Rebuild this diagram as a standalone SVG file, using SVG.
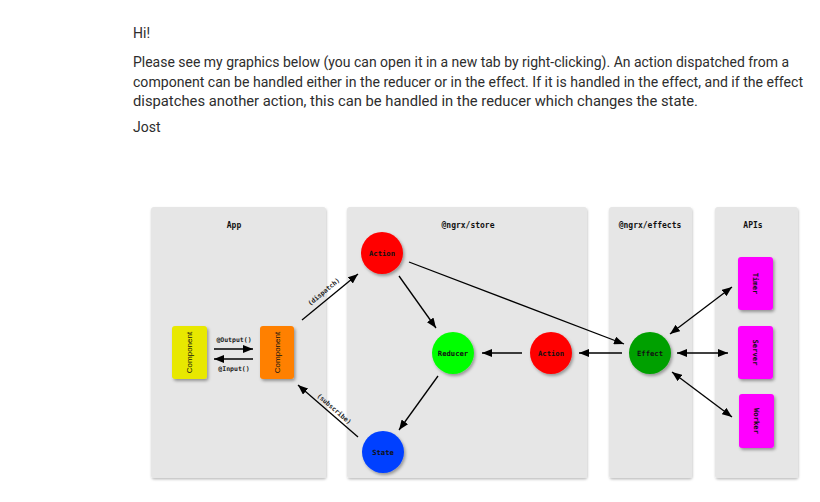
<svg xmlns="http://www.w3.org/2000/svg" width="820" height="502" viewBox="0 0 820 502">
<defs>
<filter id="sh" x="-30%" y="-30%" width="160%" height="160%">
<feDropShadow dx="1.5" dy="2" stdDeviation="1.5" flood-color="#000" flood-opacity="0.35"/>
</filter>
<filter id="psh" x="-10%" y="-10%" width="120%" height="120%">
<feDropShadow dx="0.5" dy="1.5" stdDeviation="1" flood-color="#000" flood-opacity="0.25"/>
</filter>
<marker id="ah" viewBox="0 0 10 8" refX="10" refY="4" markerWidth="10" markerHeight="8" markerUnits="userSpaceOnUse" orient="auto-start-reverse">
<path d="M0,0 L10,4 L0,8 z" fill="#000"/>
</marker>
</defs>
<style>
.para{font-family:Roboto,"Liberation Sans",sans-serif;font-size:14px;fill:#2d2d2d}
.panel{fill:#e6e6e6;filter:url(#psh)}
.title{font-family:"DejaVu Sans Mono","Liberation Mono",monospace;font-size:8px;font-weight:bold;fill:#111;text-anchor:middle}
.mono{font-family:"DejaVu Sans Mono","Liberation Mono",monospace;font-size:7.2px;font-weight:bold;fill:#111;text-anchor:middle;dominant-baseline:central}
.lab{font-family:"DejaVu Sans Mono","Liberation Mono",monospace;font-size:6.5px;font-weight:bold;fill:#222;text-anchor:middle;dominant-baseline:central}
.comp{font-family:"Liberation Sans",Arial,sans-serif;font-size:8px;fill:#111;text-anchor:middle;dominant-baseline:central}
.node{filter:url(#sh)}
.conn line{stroke:#000;stroke-width:1.3;fill:none}
</style>
<g id="intro">
<text class="para" x="133" y="38">Hi!</text>
<text class="para" x="133" y="67" textLength="656" lengthAdjust="spacingAndGlyphs">Please see my graphics below (you can open it in a new tab by right-clicking). An action dispatched from a</text>
<text class="para" x="133" y="87" textLength="670" lengthAdjust="spacingAndGlyphs">component can be handled either in the reducer or in the effect. If it is handled in the effect, and if the effect</text>
<text class="para" x="133" y="106" textLength="565" lengthAdjust="spacingAndGlyphs">dispatches another action, this can be handled in the reducer which changes the state.</text>
<text class="para" x="133" y="132">Jost</text>
</g>
<g id="panel-app"><rect class="panel" x="151" y="207" width="175" height="271" rx="3"/><text class="title" x="234" y="228">App</text></g>
<g id="panel-store"><rect class="panel" x="347" y="207" width="240" height="271" rx="3"/><text class="title" x="468" y="228">@ngrx/store</text></g>
<g id="panel-effects"><rect class="panel" x="609" y="207" width="83" height="271" rx="3"/><text class="title" x="650" y="228">@ngrx/effects</text></g>
<g id="panel-apis"><rect class="panel" x="715" y="207" width="83" height="271" rx="3"/><text class="title" x="753" y="228">APIs</text></g>
<g class="conn" id="connectors">
<line x1="214" y1="349" x2="253" y2="349" marker-end="url(#ah)"/>
<line x1="253" y1="359" x2="214" y2="359" marker-end="url(#ah)"/>
<line x1="302" y1="320" x2="358" y2="274" marker-end="url(#ah)"/>
<line x1="358" y1="437" x2="298" y2="385" marker-end="url(#ah)"/>
<line x1="399" y1="276" x2="436" y2="328" marker-end="url(#ah)"/>
<line x1="522" y1="353" x2="482" y2="353" marker-end="url(#ah)"/>
<line x1="438" y1="376" x2="399" y2="430" marker-end="url(#ah)"/>
<line x1="409" y1="262" x2="624" y2="344" marker-end="url(#ah)"/>
<line x1="622" y1="353" x2="579" y2="353" marker-end="url(#ah)"/>
<line x1="670" y1="334" x2="732" y2="287" marker-start="url(#ah)" marker-end="url(#ah)"/>
<line x1="677" y1="353" x2="728" y2="353" marker-start="url(#ah)" marker-end="url(#ah)"/>
<line x1="672" y1="372" x2="732" y2="417" marker-start="url(#ah)" marker-end="url(#ah)"/>
<text class="lab" x="234" y="340">@Output()</text>
<text class="lab" x="234" y="369">@Input()</text>
<text class="lab" transform="translate(324,292) rotate(-39.4)">(dispatch)</text>
<text class="lab" transform="translate(334,409) rotate(41)">(subscribe)</text>
</g>
<g id="component-yellow"><rect class="node" x="172" y="326" width="35" height="53" rx="3" fill="#e8e800"/><text class="comp" transform="translate(189.5,352.5) rotate(-90)">Component</text></g>
<g id="component-orange"><rect class="node" x="260" y="326" width="34" height="53" rx="3" fill="#ff8000"/><text class="comp" transform="translate(277,352.5) rotate(-90)">Component</text></g>
<g id="action1"><circle class="node" cx="382" cy="253" r="21" fill="#ff0000"/><text class="mono" x="382" y="253">Action</text></g>
<g id="reducer"><circle class="node" cx="453" cy="353" r="21" fill="#00ff00"/><text class="mono" x="453" y="353">Reducer</text></g>
<g id="action2"><circle class="node" cx="551" cy="353" r="21" fill="#ff0000"/><text class="mono" x="551" y="353">Action</text></g>
<g id="state"><circle class="node" cx="383" cy="452" r="21" fill="#0040ff"/><text class="mono" x="383" y="452">State</text></g>
<g id="effect"><circle class="node" cx="650" cy="353" r="21" fill="#00a000"/><text class="mono" x="650" y="353">Effect</text></g>
<g id="timer"><rect class="node" x="738" y="257" width="35" height="53" rx="3" fill="#ff00ff"/><text class="mono" transform="translate(755.5,283.5) rotate(90)">Timer</text></g>
<g id="server"><rect class="node" x="738" y="326" width="35" height="53" rx="3" fill="#ff00ff"/><text class="mono" transform="translate(755.5,352.5) rotate(90)">Server</text></g>
<g id="worker"><rect class="node" x="739" y="394" width="35" height="54" rx="3" fill="#ff00ff"/><text class="mono" transform="translate(756.5,421) rotate(90)">Worker</text></g>
</svg>
